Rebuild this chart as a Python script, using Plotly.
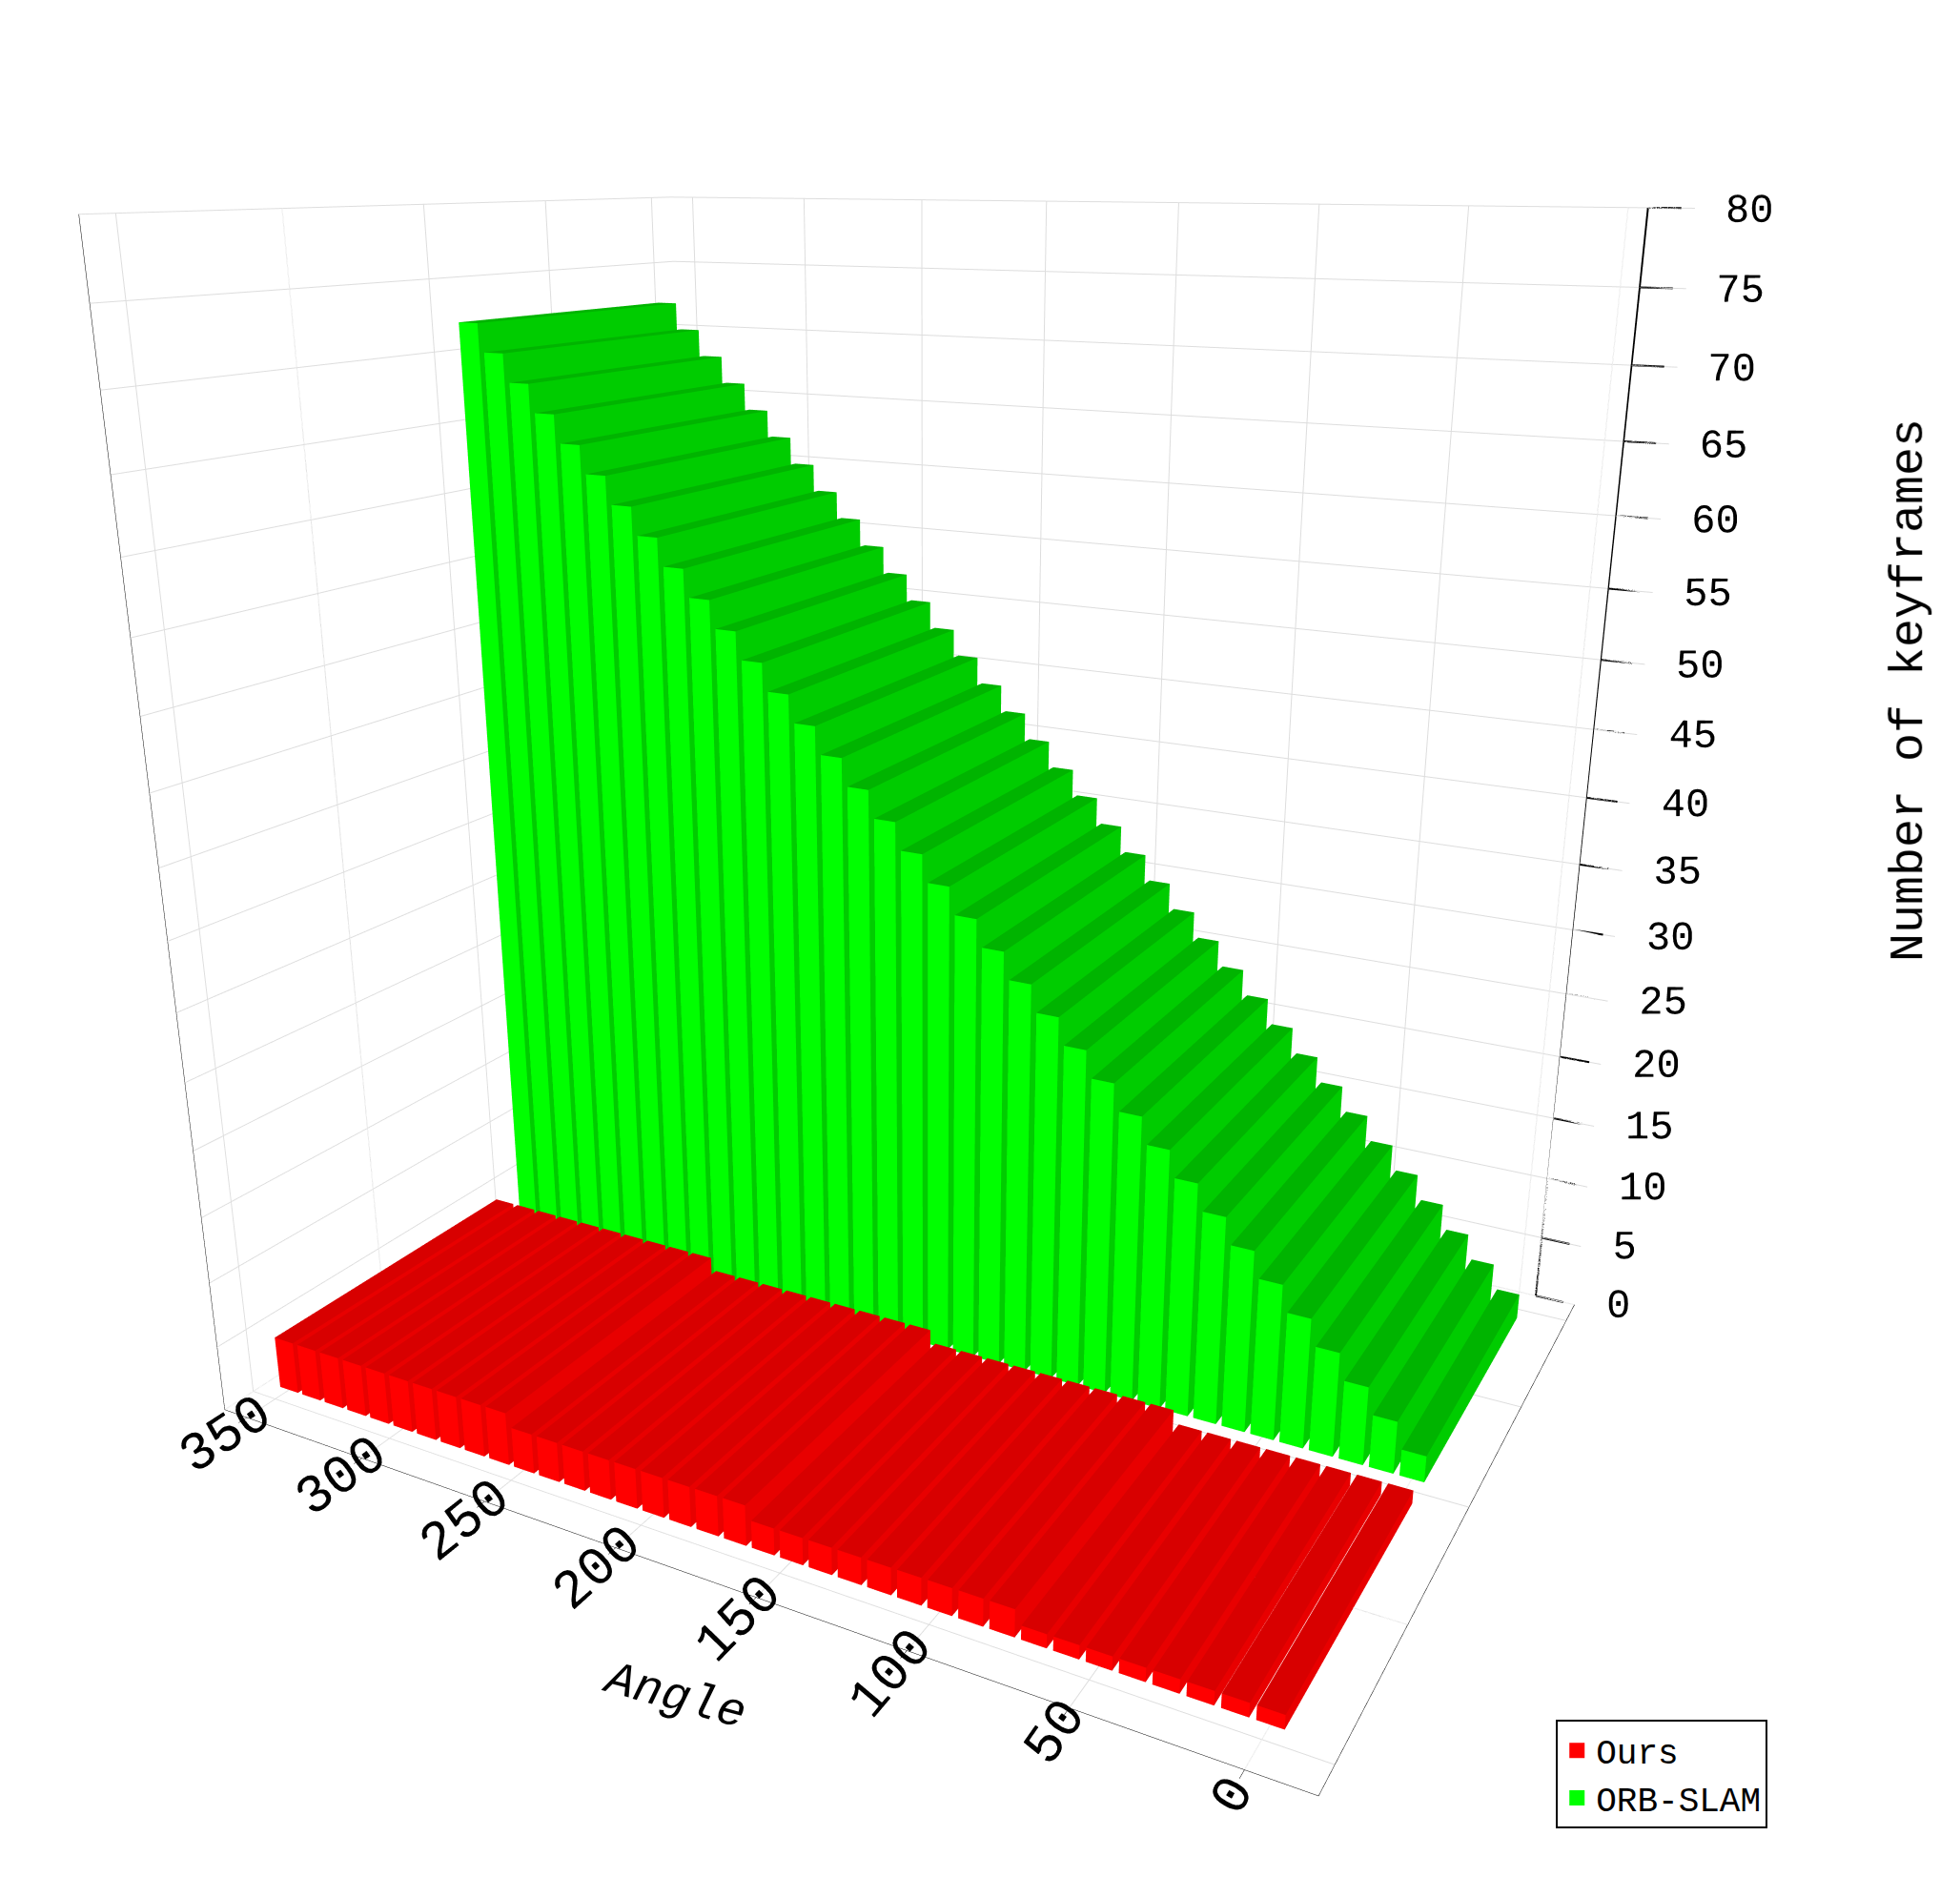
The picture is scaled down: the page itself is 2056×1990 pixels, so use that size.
import plotly.graph_objects as go

angles = [0,10,20,30,40,50,60,70,80,90,100,110,120,130,140,150,160,170,180,190,200,210,220,230,240,250,260,270,280,290,300,310,320,330,340,350]
orb_slam = [2,4,6,8,10,12,14,16,18,20,22,24,26,28,30,32,34,36,38,40,42,44,46,48,50,52,54,56,58,60,62,64,66,68,70,72]
ours = [1,1,1,1,1,1,1,1,2,2,2,2,2,2,2,2,2,3,3,3,3,3,3,3,3,3,4,4,4,4,4,4,4,4,4,4]
z_ticks = [0,5,10,15,20,25,30,35,40,45,50,55,60,65,70,75,80]
series = [("Ours", ours, 0, "#ff0000", "#d80000", "#e80000"),
          ("ORB-SLAM", orb_slam, 1, "#00ff00", "#00b400", "#00cc00")]

def boxes(vals, yi, cf, ct, cs):
    X, Y, Z, I, J, K, FC = [], [], [], [], [], [], []
    for a, v in zip(angles, vals):
        x0, x1 = a - 4, a + 4
        y0, y1 = yi - 0.45, yi + 0.45
        b = len(X)
        for (x, y, z) in [(x0,y0,0),(x1,y0,0),(x1,y1,0),(x0,y1,0),(x0,y0,v),(x1,y0,v),(x1,y1,v),(x0,y1,v)]:
            X.append(x); Y.append(y); Z.append(z)
        faces = [((0,1,5),cf),((0,5,4),cf),
                 ((4,5,6),ct),((4,6,7),ct),
                 ((1,2,6),cs),((1,6,5),cs),
                 ((0,3,7),cs),((0,7,4),cs),
                 ((3,2,6),cs),((3,6,7),cs),
                 ((0,1,2),cs),((0,2,3),cs)]
        for (i, j, k), c in faces:
            I.append(b+i); J.append(b+j); K.append(b+k); FC.append(c)
    return X, Y, Z, I, J, K, FC

fig = go.Figure()
for name, vals, yi, cf, ct, cs in series:
    X, Y, Z, I, J, K, FC = boxes(vals, yi, cf, ct, cs)
    fig.add_trace(go.Mesh3d(x=X, y=Y, z=Z, i=I, j=J, k=K, facecolor=FC, flatshading=True,
                            lighting=dict(ambient=1, diffuse=0, specular=0), hoverinfo="skip",
                            showlegend=False, name=name))
    fig.add_trace(go.Scatter3d(x=[None], y=[None], z=[None], mode="markers", name=name,
                               marker=dict(symbol="square", size=30, color=cf)))

font = "Liberation Mono"
xr, yr = -6, 1.6
fig.add_trace(go.Scatter3d(x=[xr]*2, y=[yr]*2, z=[z_ticks[0], z_ticks[-1]], mode="lines",
                           line=dict(color="black", width=4), showlegend=False, hoverinfo="skip"))
fig.add_trace(go.Scatter3d(x=[xr-12]*len(z_ticks), y=[yr]*len(z_ticks), z=z_ticks, mode="text",
                           text=[str(t) for t in z_ticks], textposition="middle right",
                           textfont=dict(size=42, family=font, color="black"),
                           showlegend=False, hoverinfo="skip"))
tx, ty, tz = [], [], []
for t in z_ticks:
    tx += [xr, xr-10, None]; ty += [yr, yr, None]; tz += [t, t, None]
fig.add_trace(go.Scatter3d(x=tx, y=ty, z=tz, mode="lines", line=dict(color="black", width=4),
                           showlegend=False, hoverinfo="skip"))

ax = dict(showbackground=False, gridcolor="#dddddd", linecolor="black", showline=True,
          ticks="outside", tickcolor="black", tickfont=dict(size=26, family=font, color="black"))
fig.update_layout(
    width=2056, height=1990, paper_bgcolor="white",
    font=dict(family=font, color="black"),
    scene=dict(
        xaxis=dict(ax, range=[360, -20], tickvals=[0,50,100,150,200,250,300,350],
                   title=dict(text="")),
        yaxis=dict(ax, range=[-0.6, 1.6], showticklabels=False, ticks="", title=dict(text="")),
        zaxis=dict(ax, range=[0, 80], dtick=5, showticklabels=False, ticks="", title=dict(text="")),
        aspectmode="manual", aspectratio=dict(x=1.2, y=0.9, z=1.2),
        camera=dict(eye=dict(x=1.0, y=-1.85, z=0.65), center=dict(x=0, y=0, z=-0.08),
                    projection=dict(type="perspective")),
        domain=dict(x=[0, 0.94], y=[0.05, 1]),
    ),
    annotations=[dict(text="Number of keyframes", textangle=-90, x=0.985, y=0.64,
                      xref="paper", yref="paper", showarrow=False,
                      font=dict(size=50, family=font, color="black")),
                 dict(text="<i>Angle</i>", textangle=15, x=0.34, y=0.085,
                      xref="paper", yref="paper", showarrow=False,
                      font=dict(size=50, family=font, color="black"))],
    legend=dict(x=0.79, y=0.04, xanchor="left", yanchor="bottom", bordercolor="black", borderwidth=2,
                font=dict(size=36, family=font)),
    margin=dict(l=0, r=0, t=0, b=0),
)
fig.write_html("out.html")
